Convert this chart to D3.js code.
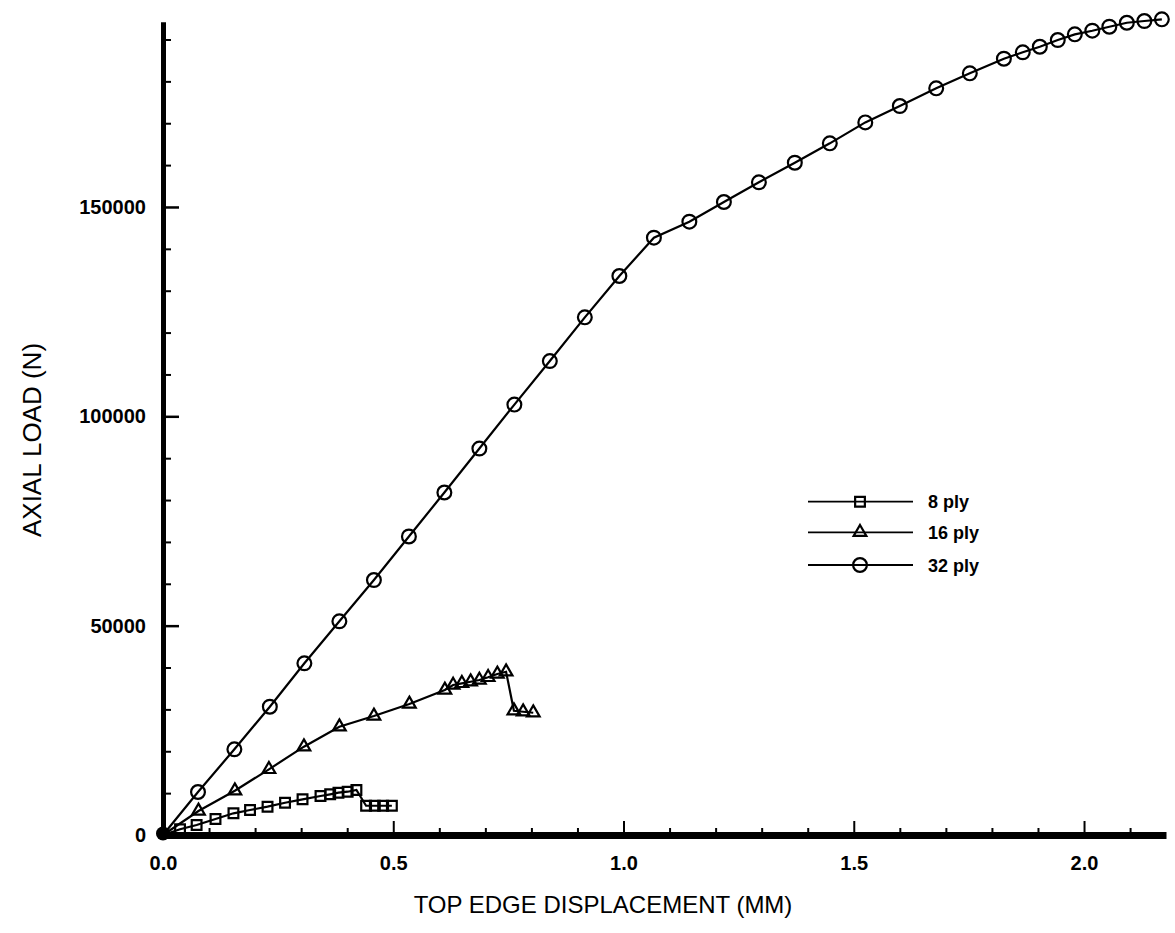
<!DOCTYPE html>
<html>
<head>
<meta charset="utf-8">
<script src="https://cdn.jsdelivr.net/npm/d3@7"></script>
<style>
  html, body { margin: 0; padding: 0; background: #fff; }
  svg { display: block; }
  text { font-family: "Liberation Sans", Arial, Helvetica, sans-serif; fill: #000; }
</style>
</head>
<body>
<svg id="chart" width="1175" height="933"></svg>
<script>
// ---- data ----
const seriesNames = ["8 ply", "16 ply", "32 ply"];

const ply8X = [0, 0.037, 0.073, 0.114, 0.153, 0.189, 0.227, 0.265, 0.303, 0.342, 0.363, 0.381, 0.401, 0.420, 0.441, 0.460, 0.478, 0.497];
const ply8Y = [0, 1360, 2390, 3820, 5180, 5970, 6760, 7710, 8520, 9310, 9720, 10100, 10340, 10750, 6990, 6990, 6990, 6990];

const ply16X = [0, 0.077, 0.156, 0.230, 0.306, 0.383, 0.458, 0.535, 0.612, 0.630, 0.649, 0.668, 0.687, 0.706, 0.726, 0.745, 0.762, 0.782, 0.804];
const ply16Y = [0, 5730, 10580, 15690, 21090, 25870, 28420, 31290, 34630, 35820, 36230, 36610, 37010, 37660, 38450, 38990, 29680, 29440, 29200];

const ply32X = [0, 0.076, 0.155, 0.232, 0.307, 0.383, 0.458, 0.534, 0.611, 0.687, 0.763, 0.840, 0.916, 0.991, 1.066, 1.143, 1.218, 1.294, 1.372, 1.448, 1.525, 1.600, 1.679, 1.752, 1.826, 1.867, 1.904, 1.943, 1.980, 2.018, 2.055, 2.093, 2.131, 2.169];
const ply32Y = [0, 10270, 20470, 30640, 41010, 51040, 60900, 71300, 81800, 92300, 102800, 113200, 123640, 133510, 142660, 146480, 151190, 155890, 160570, 165200, 170200, 174110, 178340, 181920, 185410, 186940, 188270, 189870, 191230, 192100, 193050, 194000, 194410, 194820];

const xMajorTicks = [0.0, 0.5, 1.0, 1.5, 2.0];
const xTickLabels = ["0.0", "0.5", "1.0", "1.5", "2.0"];
const xMinorTicks = [0.1, 0.2, 0.3, 0.4, 0.6, 0.7, 0.8, 0.9, 1.1, 1.2, 1.3, 1.4, 1.6, 1.7, 1.8, 1.9, 2.1];
const yMajorTicks = [0, 50000, 100000, 150000];
const yTickLabels = ["0", "50000", "100000", "150000"];
const yMinorTicks = [10000, 20000, 30000, 40000, 60000, 70000, 80000, 90000, 110000, 120000, 130000, 140000, 160000, 170000, 180000, 190000];

const xTitle = "TOP EDGE DISPLACEMENT (MM)";
const yTitle = "AXIAL LOAD (N)";

// ---- layout ----
const svg = d3.select("#chart");
const x = d3.scaleLinear().domain([0, 2.178]).range([163, 1166]);
const y = d3.scaleLinear().domain([0, 194250]).range([835, 21.7]);

const series = [
  { name: seriesNames[0], xs: ply8X, ys: ply8Y, symbol: d3.symbolSquare, size: 95 },
  { name: seriesNames[1], xs: ply16X, ys: ply16Y, symbol: d3.symbolTriangle, size: 70 },
  { name: seriesNames[2], xs: ply32X, ys: ply32Y, symbol: d3.symbolCircle, size: 150 }
];

const line = d3.line().x(d => x(d[0])).y(d => y(d[1]));

// series lines + markers
series.forEach(s => {
  const pts = s.xs.map((v, i) => [v, s.ys[i]]);
  svg.append("path")
    .attr("d", line(pts))
    .attr("fill", "none")
    .attr("stroke", "#000")
    .attr("stroke-width", 2.2);
  svg.append("g").selectAll("path")
    .data(pts.slice(1))
    .join("path")
    .attr("transform", d => `translate(${x(d[0])},${y(d[1])})`)
    .attr("d", d3.symbol().type(s.symbol).size(s.size))
    .attr("fill", "none")
    .attr("stroke", "#000")
    .attr("stroke-width", 2.2);
});

// x axis
const gx = svg.append("g").attr("transform", `translate(0,${y(0)})`);
gx.call(d3.axisBottom(x).tickValues(xMajorTicks).tickFormat((d, i) => xTickLabels[i])
  .tickSizeInner(-14).tickSizeOuter(0).tickPadding(16));
gx.select(".domain").attr("stroke-width", 7);
gx.selectAll(".tick line").attr("stroke-width", 2);
gx.selectAll(".tick text").attr("font-size", 20).attr("font-family", "Liberation Sans, Arial, sans-serif").attr("font-weight", "bold").attr("dy", "0.95em");
const gxm = svg.append("g").attr("transform", `translate(0,${y(0)})`);
gxm.call(d3.axisBottom(x).tickValues(xMinorTicks).tickFormat("").tickSizeInner(-7).tickSizeOuter(0));
gxm.select(".domain").remove();
gxm.selectAll(".tick line").attr("stroke-width", 2);

// y axis
const gy = svg.append("g").attr("transform", `translate(${x(0)},0)`);
gy.call(d3.axisLeft(y).tickValues(yMajorTicks).tickFormat((d, i) => yTickLabels[i])
  .tickSizeInner(-16).tickSizeOuter(0).tickPadding(17));
gy.select(".domain").attr("stroke-width", 5);
gy.selectAll(".tick line").attr("stroke-width", 2.5);
gy.selectAll(".tick text").attr("font-size", 20).attr("font-family", "Liberation Sans, Arial, sans-serif").attr("font-weight", "bold");
const gym = svg.append("g").attr("transform", `translate(${x(0)},0)`);
gym.call(d3.axisLeft(y).tickValues(yMinorTicks).tickFormat("").tickSizeInner(-8).tickSizeOuter(0));
gym.select(".domain").remove();
gym.selectAll(".tick line").attr("stroke-width", 2);

// origin dot
svg.append("circle").attr("cx", x(0)).attr("cy", y(0) - 1.5).attr("r", 7).attr("fill", "#000");

// axis titles
svg.append("text").attr("x", 603).attr("y", 913).attr("text-anchor", "middle")
  .attr("font-size", 24).text(xTitle);
svg.append("text").attr("transform", "translate(41,440) rotate(-90)").attr("text-anchor", "middle")
  .attr("font-size", 26).text(yTitle);

// legend
const legend = svg.append("g");
const legendY = [501.7, 532.3, 565];
series.forEach((s, i) => {
  const g = legend.append("g").attr("transform", `translate(0,${legendY[i]})`);
  g.append("line").attr("x1", 808).attr("x2", 913).attr("y1", 0).attr("y2", 0)
    .attr("stroke", "#000").attr("stroke-width", 1.8);
  g.append("path").attr("transform", "translate(860,0)")
    .attr("d", d3.symbol().type(s.symbol).size(s.size))
    .attr("fill", "none").attr("stroke", "#000").attr("stroke-width", 2.2);
  g.append("text").attr("x", 928).attr("y", 6.5).attr("font-size", 18).attr("font-weight", "bold").text(s.name);
});
</script>
</body>
</html>
